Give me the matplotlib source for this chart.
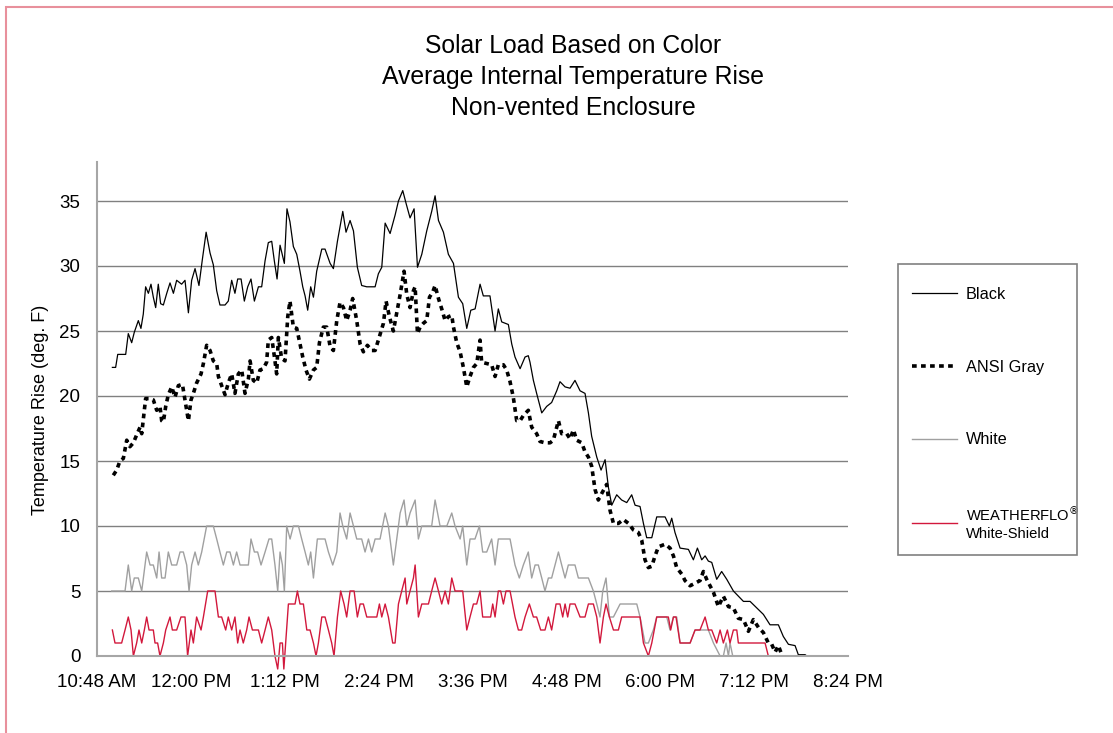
import matplotlib
matplotlib.use("Agg")
import matplotlib.pyplot as plt
from matplotlib.patches import Rectangle

plt.rcParams['font.family'] = ['Liberation Sans', 'DejaVu Sans']

# x values are minutes after 10:48 AM, y values are temperature rise in deg. F
tick_minutes = [0, 72, 144, 216, 288, 360, 432, 504, 576]
tick_labels = ["10:48 AM", "12:00 PM", "1:12 PM", "2:24 PM", "3:36 PM",
               "4:48 PM", "6:00 PM", "7:12 PM", "8:24 PM"]

black_t = [11.8, 14.3, 15.9, 22.0, 24.0, 25.1, 26.6, 28.6, 31.7, 33.7, 35.5, 37.3, 39.4, 41.4,
           43.2, 45.0, 47.0, 48.8, 50.9, 53.5, 56.0, 58.6, 61.1, 64.9, 67.5, 70.1, 72.6, 75.2,
           78.2, 80.8, 83.7, 86.7, 89.2, 91.8, 94.3, 98.2, 100.7, 103.3, 105.8, 107.9, 110.5,
           113.0, 115.6, 118.1, 120.7, 123.8, 126.3, 128.9, 131.4, 134.0, 136.0, 138.1, 140.4,
           143.7, 145.7, 148.0, 150.6, 153.2, 155.7, 157.8, 159.6, 161.6, 163.9, 166.0, 168.5,
           172.4, 174.9, 178.8, 181.3, 184.4, 188.5, 191.0, 194.1, 196.7, 199.7, 203.0, 206.9,
           213.3, 215.8, 218.4, 221.0, 224.8, 228.6, 231.2, 234.5, 237.1, 240.1, 243.2, 245.8,
           249.1, 252.9, 256.7, 259.3, 261.9, 265.7, 269.5, 273.4, 277.2, 280.5, 283.6, 286.7,
           290.0, 293.8, 296.3, 301.4, 305.3, 307.8, 310.4, 315.5, 318.1, 320.6, 324.5, 328.3,
           330.8, 332.1, 334.7, 337.2, 341.1, 344.9, 348.7, 352.6, 355.1, 359.0, 362.8, 366.6,
           370.5, 374.3, 376.9, 379.4, 383.3, 386.6, 389.7, 392.2, 394.8, 398.6, 402.4, 406.3,
           410.1, 412.7, 416.5, 419.1, 421.6, 425.5, 429.3, 435.7, 439.0, 440.8, 443.3, 447.2,
           453.6, 457.4, 460.5, 463.8, 466.4, 468.9, 471.5, 475.3, 479.1, 483.0, 488.1, 495.8,
           500.9, 506.0, 511.1, 516.2, 522.6, 526.4, 530.3, 535.4, 537.9, 543.1, 544.4]
black_v = [22.2, 22.2, 23.2, 23.2, 24.8, 24.5, 24.1, 24.9, 25.8, 25.2, 26.3, 28.4, 27.9, 28.6,
           27.6, 26.8, 28.6, 27.1, 27.0, 27.9, 28.7, 27.9, 28.9, 28.6, 28.9, 26.4, 28.9, 29.8,
           28.5, 30.5, 32.6, 31.0, 30.1, 28.1, 27.0, 27.0, 27.3, 28.9, 27.9, 29.0, 29.0,
           27.3, 28.4, 29.0, 27.3, 28.4, 28.4, 30.4, 31.8, 31.9, 30.4, 29.0, 31.6,
           30.2, 34.4, 33.4, 31.5, 30.9, 29.6, 28.4, 27.7, 26.6, 28.4, 27.6, 29.6,
           31.3, 31.3, 30.2, 29.8, 31.9, 34.2, 32.6, 33.5, 32.7, 29.9, 28.5, 28.4,
           28.4, 29.4, 29.9, 33.3, 32.5, 33.9, 35.0, 35.8, 34.8, 33.7, 34.4, 29.9,
           30.9, 32.7, 34.2, 35.4, 33.5, 32.6, 30.9, 30.2, 27.6, 27.1, 25.2, 26.6,
           26.7, 28.6, 27.7, 27.7, 25.0, 26.7, 25.7, 25.5, 24.0, 23.0, 22.1, 23.0,
           23.1, 22.6, 21.2, 20.2, 18.7, 19.2, 19.5, 20.4, 21.1, 20.7, 20.6, 21.2,
           20.4, 20.2, 18.7, 16.9, 15.3, 14.3, 15.1, 13.0, 11.6, 12.4, 12.0, 11.8,
           12.4, 11.6, 11.5, 10.2, 9.1, 9.1, 10.7, 10.7, 10.0, 10.6, 9.5, 8.3,
           8.2, 7.4, 8.3, 7.4, 7.7, 7.3, 7.2, 5.9, 6.5, 5.9, 5.0, 4.2,
           4.2, 3.7, 3.2, 2.4, 2.4, 1.5, 0.9, 0.8, 0.1, 0.1, 0.0]

ansi_t = [12.5, 15.1, 17.6, 20.2, 22.8, 25.3, 27.9, 30.4, 33.0, 34.3, 36.3, 37.3, 40.7, 43.2,
          45.8, 48.3, 49.6, 50.9, 52.7, 54.7, 57.3, 59.8, 62.4, 65.5, 68.0, 70.1, 72.1, 73.9,
          76.4, 79.8, 81.6, 84.1, 86.7, 89.2, 91.8, 93.1, 95.6, 98.2, 100.7, 103.3, 105.8,
          108.4, 111.0, 113.5, 116.1, 117.4, 119.9, 122.5, 125.0, 127.6, 130.1, 131.4, 134.0,
          136.5, 137.8, 139.1, 141.6, 144.2, 146.3, 148.0, 150.6, 153.2, 155.7, 157.8, 160.3,
          162.9, 166.0, 168.5, 170.6, 173.6, 176.2, 178.8, 181.3, 183.9, 186.4, 189.0, 191.5,
          194.1, 196.1, 199.2, 201.8, 204.3, 207.4, 210.7, 213.3, 215.8, 219.7, 221.7, 224.3,
          227.3, 229.9, 232.5, 235.5, 237.6, 240.1, 242.7, 244.0, 245.8, 247.8, 250.4, 252.9,
          255.0, 257.5, 259.3, 261.9, 264.4, 267.0, 269.5, 272.1, 273.4, 275.9, 278.5, 281.0,
          283.6, 286.1, 288.7, 291.3, 292.5, 293.8, 295.0, 298.9, 302.7, 305.3, 307.8, 311.7,
          314.2, 316.8, 319.3, 321.9, 324.5, 327.0, 330.8, 333.4, 337.2, 339.8, 343.6, 347.5,
          350.0, 353.9, 356.4, 360.3, 362.8, 365.4, 367.9, 371.8, 374.3, 376.9, 379.4, 382.0,
          384.5, 387.1, 390.9, 393.5, 396.1, 399.9, 403.7, 407.6, 411.4, 415.2, 417.8, 420.3,
          422.9, 425.5, 428.0, 430.6, 435.7, 439.5, 442.1, 444.6, 448.5, 451.0, 454.9, 458.7,
          462.5, 465.1, 467.6, 470.2, 472.8, 476.6, 480.4, 484.3, 488.1, 491.9, 495.8, 499.6,
          503.4, 507.3, 511.1, 514.9, 517.5, 520.1, 522.6, 525.2]
ansi_v = [13.9, 14.3, 15.0, 15.2, 16.6, 16.1, 16.4, 17.0, 17.6, 17.1, 18.9, 19.8, 19.8, 19.7,
          18.9, 19.2, 18.1, 18.0, 19.2, 20.1, 20.7, 19.9, 20.8, 20.9, 19.4, 18.1, 19.7, 20.2,
          21.0, 21.7, 22.5, 23.9, 23.5, 22.7, 22.5, 21.5, 20.8, 20.1, 21.0, 21.7, 20.2,
          21.7, 22.0, 20.2, 21.3, 22.7, 21.2, 21.0, 22.0, 22.1, 22.6, 24.3, 24.5,
          22.7, 21.7, 24.5, 22.9, 22.7, 26.1, 27.3, 25.3, 25.2, 24.0, 23.0, 22.0,
          21.3, 22.0, 22.2, 24.1, 25.3, 25.3, 23.8, 23.5, 25.8, 27.2, 26.8, 25.8,
          26.6, 27.5, 25.8, 24.0, 23.4, 23.9, 23.5, 23.5, 24.3, 25.6, 27.3, 26.1,
          25.0, 26.4, 27.8, 29.6, 27.8, 26.8, 28.1, 28.4, 24.8, 25.3, 25.6, 25.8,
          27.6, 28.0, 28.5, 27.5, 26.7, 25.8, 26.1, 26.2, 25.3, 24.1, 23.4, 22.2,
          20.7, 21.5, 22.2, 22.5, 23.4, 24.3, 22.6, 22.5, 22.4, 21.5, 22.4, 22.4,
          22.0, 21.1, 19.9, 18.1, 18.1, 18.5, 18.9, 17.6, 17.1, 16.5, 16.4, 16.4,
          16.6, 18.1, 17.1, 17.1, 16.7, 17.4, 16.6, 16.4, 15.7, 15.3, 14.6, 12.8,
          12.0, 12.5, 13.2, 11.2, 10.2, 10.2, 10.5, 10.2, 9.7, 9.5, 8.9, 7.4,
          6.8, 6.9, 7.7, 8.4, 8.6, 8.3, 7.7, 6.8, 6.3, 5.8, 5.4, 5.6,
          5.8, 6.5, 5.9, 5.4, 4.9, 3.8, 4.6, 3.8, 3.7, 2.9, 2.8, 1.9,
          2.8, 2.2, 1.8, 1.0, 0.9, 0.3, 0.8, 0.1]

white_t = [11.3, 21.5, 24.0, 26.6, 28.6, 31.7, 34.3, 36.8, 38.1, 40.7, 43.2, 45.8, 47.6, 49.6,
           52.2, 54.7, 57.3, 61.1, 63.7, 66.2, 68.8, 70.6, 72.6, 75.2, 77.7, 80.3, 84.1, 89.2,
           91.8, 94.3, 96.9, 99.5, 102.0, 104.6, 107.1, 109.7, 112.2, 116.1, 118.1, 120.7,
           123.2, 125.8, 128.9, 131.9, 134.0, 136.5, 138.6, 140.4, 142.2, 143.7, 145.5, 148.1,
           150.6, 154.5, 157.0, 159.6, 162.1, 163.9, 166.0, 169.0, 172.4, 174.9, 177.5, 180.8,
           183.9, 186.4, 188.5, 191.5, 194.1, 196.7, 199.2, 203.0, 205.6, 208.2, 210.7, 213.3,
           217.1, 221.0, 223.5, 227.3, 229.9, 232.5, 235.5, 237.6, 240.1, 244.0, 246.5, 249.1,
           252.9, 256.7, 259.3, 263.1, 268.3, 272.1, 274.6, 278.5, 280.5, 283.6, 286.1, 289.9,
           293.3, 295.8, 298.9, 302.7, 305.3, 307.8, 311.7, 316.8, 320.6, 323.9, 327.0, 330.8,
           333.4, 336.0, 338.5, 341.1, 343.6, 346.2, 348.7, 351.3, 353.9, 356.4, 359.0, 361.5,
           366.6, 369.2, 376.9, 380.7, 383.3, 385.8, 387.9, 390.4, 393.0, 396.1, 401.2, 414.0,
           416.5, 420.3, 422.9, 426.7, 429.3, 437.0, 439.5, 442.1, 444.6, 447.2, 454.9, 458.7,
           468.9, 472.8, 477.9, 480.4, 482.5, 484.3, 485.5, 487.6, 490.7]
white_v = [5, 5, 7, 5, 6, 6, 5, 7, 8, 7, 7, 6, 8, 6,
           6, 8, 7, 7, 8, 8, 7, 5, 7, 8, 7, 8, 10, 10,
           9, 8, 7, 8, 8, 7, 8, 7, 7, 7, 9, 8,
           8, 7, 8, 9, 9, 7, 5, 8, 7, 5, 10, 9,
           10, 10, 9, 8, 7, 8, 6, 9, 9, 9, 8, 7,
           8, 11, 10, 9, 11, 10, 9, 9, 8, 9, 8, 9,
           9, 11, 10, 7, 9, 11, 12, 10, 11, 12, 9, 10,
           10, 10, 12, 10, 10, 11, 10, 9, 10, 7, 9, 9,
           10, 8, 8, 9, 7, 9, 9, 9, 7, 6, 7, 8,
           6, 7, 7, 6, 5, 6, 6, 7, 8, 7, 6, 7,
           7, 6, 6, 5, 4, 3, 5, 6, 3, 3, 4, 4,
           3, 1, 1, 2, 3, 3, 2, 3, 3, 1, 1, 2,
           2, 1, 0, 0, 1, 0, 1, 0, 0]

shield_t = [11.8, 13.8, 18.9, 21.5, 24.0, 26.1, 27.9, 30.4, 32.2, 34.3, 36.3, 38.1, 39.9, 43.2,
            44.5, 46.5, 48.3, 50.9, 52.7, 56.0, 57.8, 61.1, 64.4, 67.5, 69.5, 72.1, 73.9, 76.4,
            79.8, 81.6, 84.9, 90.5, 93.1, 95.6, 98.7, 100.7, 103.3, 105.8, 107.9, 109.7, 112.2,
            114.8, 116.6, 119.2, 123.8, 126.3, 128.9, 131.4, 134.0, 136.5, 138.6, 140.4, 142.2,
            143.3, 144.7, 146.8, 149.3, 151.9, 153.7, 155.7, 158.3, 160.9, 163.4, 166.0, 168.0,
            169.8, 172.4, 174.9, 177.5, 180.0, 181.8, 184.4, 186.9, 189.5, 191.5, 194.1, 197.2,
            199.7, 201.8, 204.3, 206.9, 214.6, 216.6, 218.4, 221.0, 223.5, 226.8, 228.6, 231.2,
            233.7, 236.3, 237.6, 240.1, 242.7, 244.0, 246.5, 249.1, 254.2, 256.7, 259.3, 261.9,
            264.4, 267.0, 269.5, 272.1, 274.6, 280.5, 283.6, 286.1, 288.7, 291.2, 293.8, 295.8,
            298.9, 301.9, 303.5, 305.3, 307.8, 309.6, 311.7, 313.7, 316.8, 320.6, 323.2, 325.7,
            328.3, 331.6, 334.7, 337.2, 340.3, 343.6, 346.2, 348.7, 352.1, 355.1, 357.2, 359.0,
            361.0, 362.8, 366.6, 370.5, 374.3, 376.9, 380.7, 383.3, 385.8, 388.4, 390.4, 393.0,
            396.1, 399.9, 402.4, 416.5, 419.1, 422.9, 425.5, 429.3, 438.2, 440.0, 442.1, 444.1,
            447.2, 454.9, 458.7, 462.5, 466.4, 468.9, 471.5, 475.3, 477.9, 480.4, 483.5, 485.5,
            488.1, 490.7, 491.9, 512.4, 514.9, 517.5, 536.7]
shield_v = [2, 1, 1, 2, 3, 2, 0, 1, 2, 1, 2, 3, 2, 2,
            1, 1, 0, 1, 2, 3, 2, 2, 3, 3, 0, 2, 1, 3,
            2, 3, 5, 5, 3, 3, 2, 3, 2, 3, 1, 2, 1,
            2, 3, 2, 2, 1, 2, 3, 2, 0, -1, 1, 1,
            -1, 1, 4, 4, 4, 5, 4, 4, 2, 2, 1, 0,
            1, 3, 3, 2, 1, 0, 3, 5, 4, 3, 5, 5,
            3, 4, 4, 3, 3, 4, 3, 4, 3, 1, 1, 4,
            5, 6, 4, 5, 6, 7, 3, 4, 4, 5, 6, 5,
            4, 5, 4, 6, 5, 5, 2, 3, 4, 4, 5, 3,
            3, 3, 4, 3, 5, 5, 4, 5, 5, 3, 2, 2,
            3, 4, 3, 3, 2, 2, 3, 2, 4, 4, 3, 4,
            3, 4, 4, 3, 3, 4, 4, 3, 1, 3, 4, 3,
            2, 2, 3, 3, 1, 0, 1, 3, 3, 2, 3, 3,
            1, 1, 2, 2, 3, 2, 2, 1, 2, 1, 2, 1,
            2, 2, 1, 1, 0, 0, 0]

fig = plt.figure(figsize=(11.13, 7.33), dpi=100)
ax = fig.add_axes([97 / 1113, 77 / 733, 751 / 1113, 494 / 733])

ax.plot(black_t, black_v, color='black', lw=0.9, label='Black', clip_on=False)
ax.plot(ansi_t, ansi_v, color='black', lw=2.6, dashes=(1.3, 1.2), label='ANSI Gray', clip_on=False)
ax.plot(white_t, white_v, color='#a0a0a0', lw=1.0, label='White', clip_on=False)
ax.plot(shield_t, shield_v, color='#d2183c', lw=1.0, label='WEATHERFLO$^{\\circledR}$\nWhite-Shield',
        clip_on=False)

ax.set_xlim(0, 576)
ax.set_ylim(0, 38)
ax.set_yticks(range(0, 36, 5))
ax.set_xticks(tick_minutes, tick_labels)
ax.yaxis.grid(True, color='#808080', lw=1.0)
ax.set_axisbelow(True)
for side in ['top', 'right']:
    ax.spines[side].set_visible(False)
for side in ['left', 'bottom']:
    ax.spines[side].set_color('#a6a6a6')
    ax.spines[side].set_linewidth(1.5)
ax.tick_params(axis='both', length=0, labelsize=13.5)
ax.tick_params(axis='y', pad=12)
ax.tick_params(axis='x', pad=13)

fig.text(41 / 1113, 1 - 410 / 733, 'Temperature Rise (deg. F)', rotation=90,
         ha='center', va='center', fontsize=13)
fig.text(573 / 1113, 1 - 77 / 733,
         'Solar Load Based on Color\nAverage Internal Temperature Rise\nNon-vented Enclosure',
         ha='center', va='center', fontsize=17.8, linespacing=1.38)

# legend entries placed by matplotlib, box drawn at the chart's legend frame
leg = ax.legend(loc='upper left', bbox_to_anchor=(898 / 1113, 1 - 273 / 733),
                bbox_transform=fig.transFigure, frameon=False, fontsize=11.7,
                borderpad=0.86, labelspacing=3.55, handlelength=2.8, handletextpad=0.5,
                borderaxespad=0)
leg.get_texts()[3].set_fontsize(10.6)
fig.patches.append(Rectangle((898 / 1113, 1 - 555 / 733), 179 / 1113, 291 / 733,
                             transform=fig.transFigure, fill=False, edgecolor='#808080', lw=1.2))

# pink outer border of the chart area
fig.patches.append(Rectangle((5.5 / 1113, -0.05), 1.2, 1.05 - 7 / 733, transform=fig.transFigure,
                             fill=False, edgecolor='#e8909c', lw=1.5))

fig.savefig('out.png', dpi=100)
